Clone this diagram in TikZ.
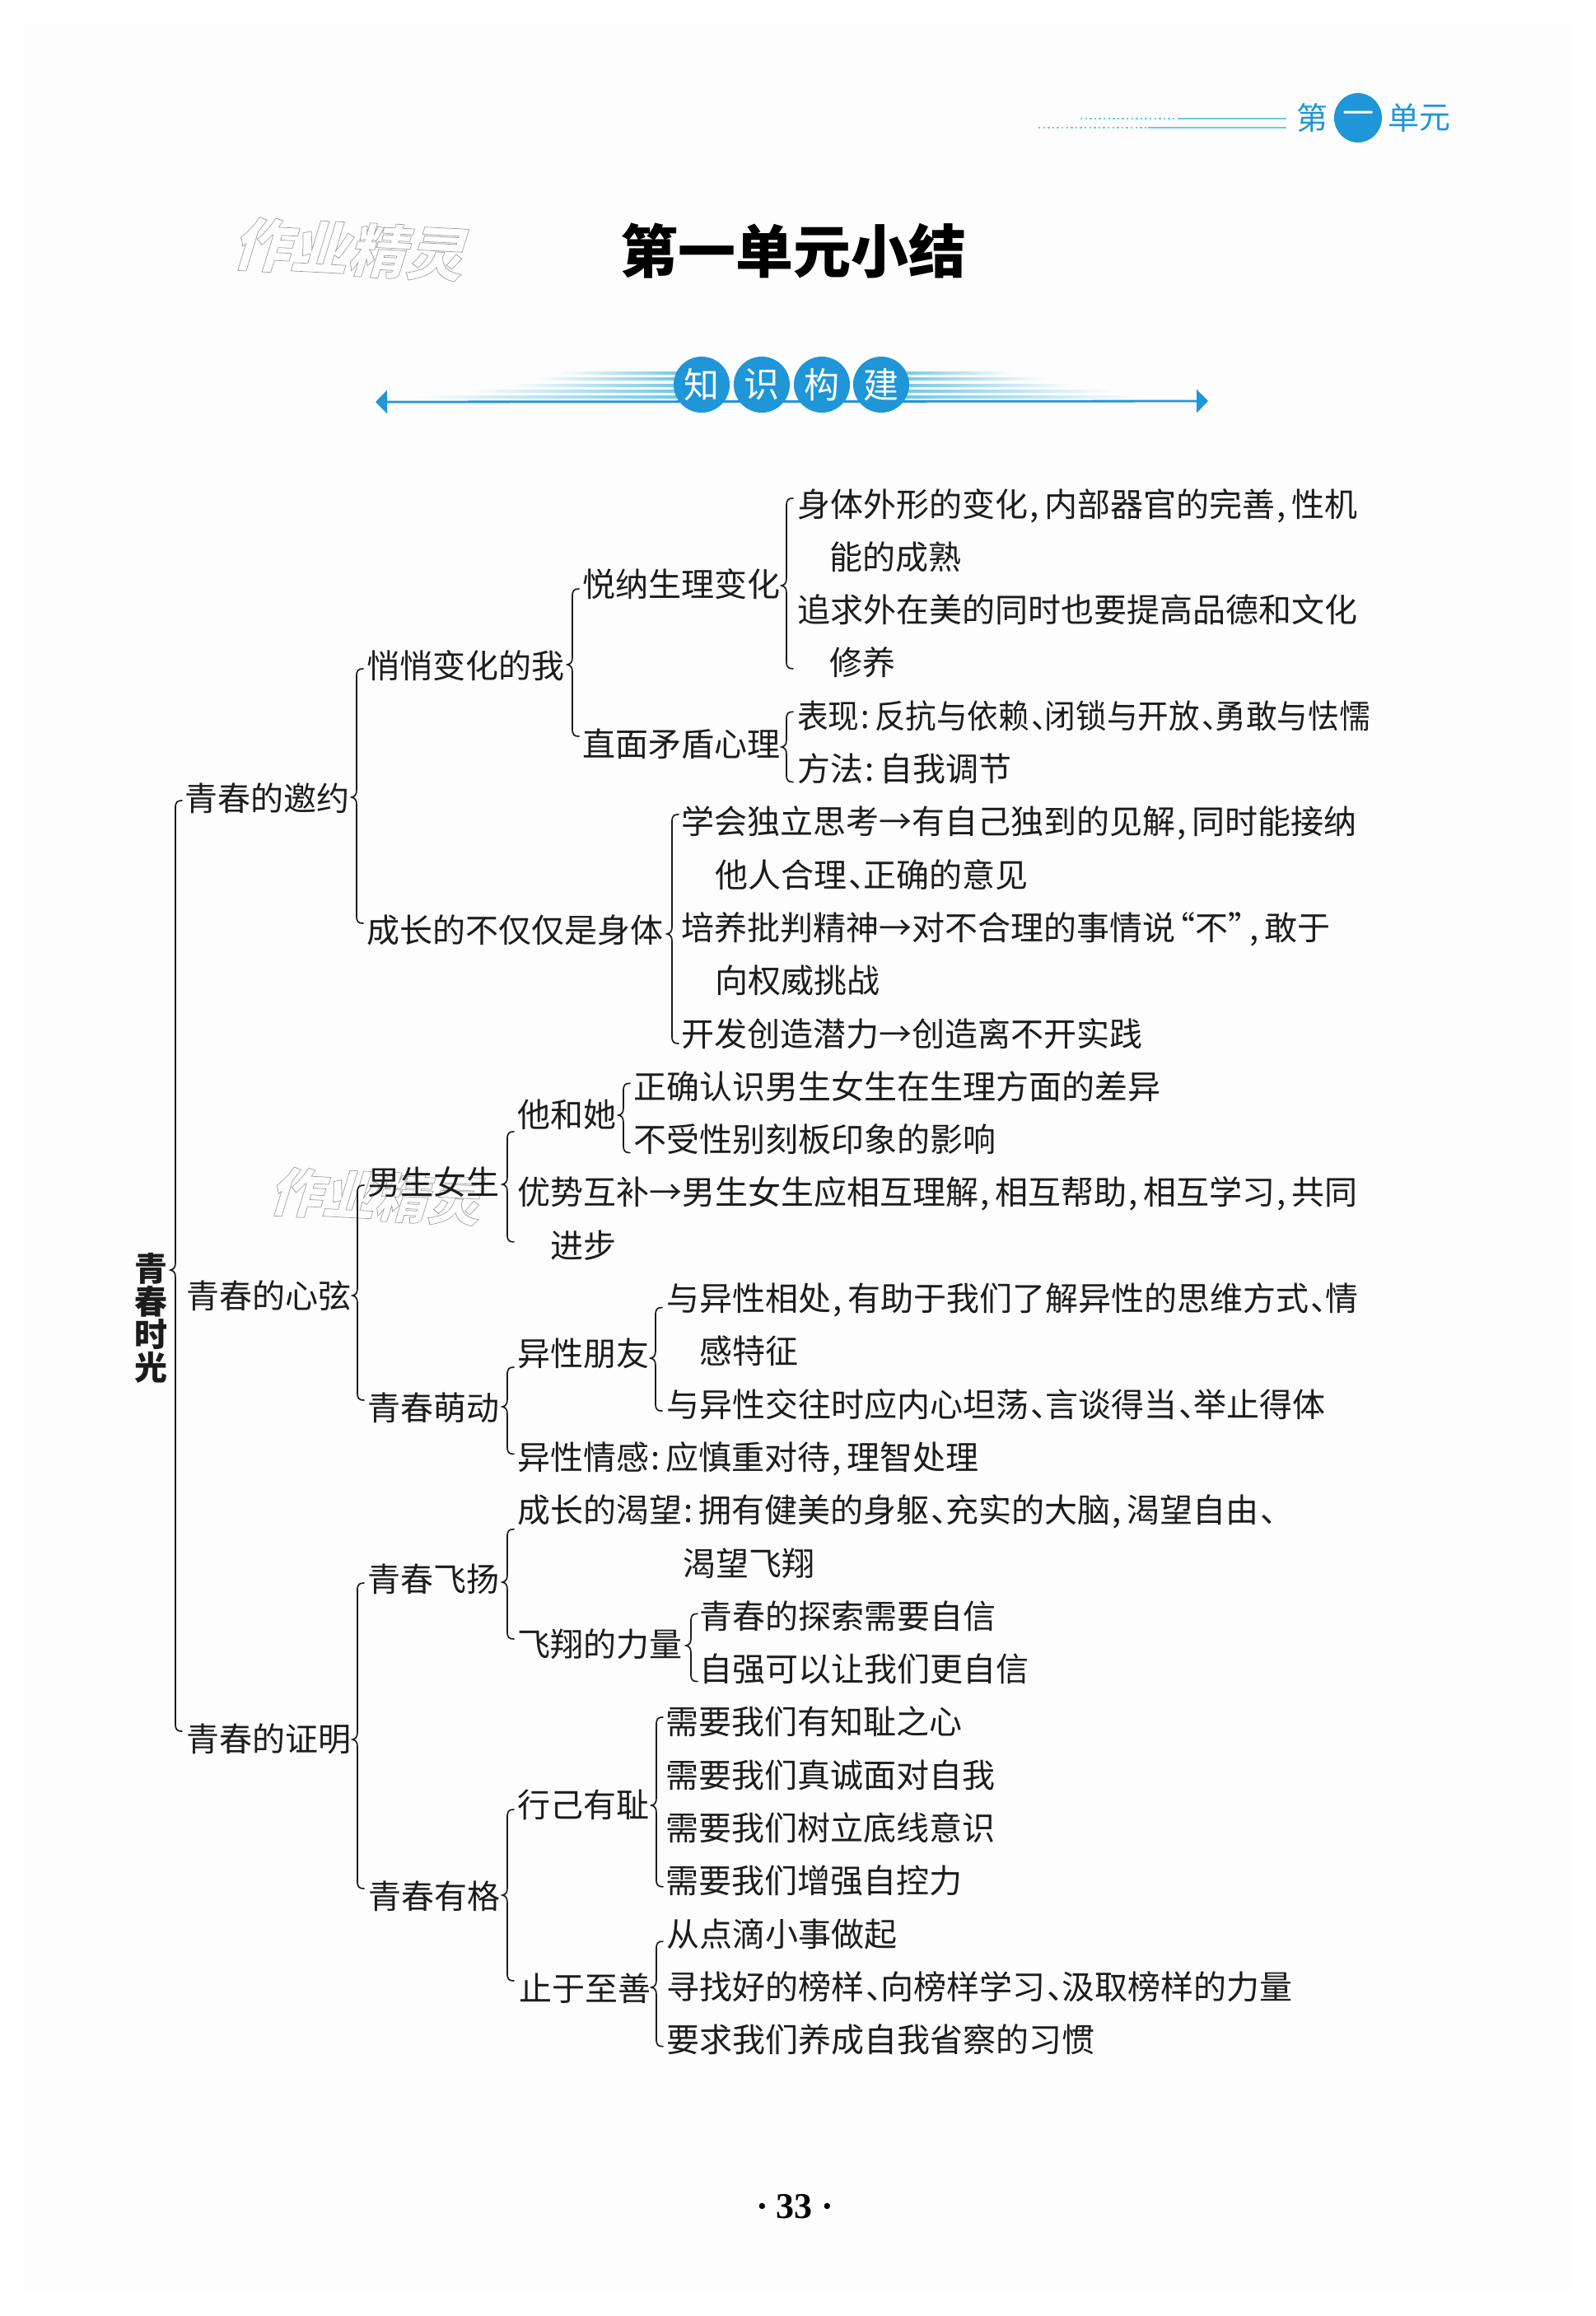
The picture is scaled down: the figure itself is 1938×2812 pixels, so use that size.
\documentclass[tikz,border=0pt]{standalone}
\usepackage{graphicx}
\usepackage{fontspec}
\setmainfont{Noto Sans CJK SC}
\newfontfamily\numfont{Liberation Serif}
\usetikzlibrary{arrows.meta,calc,shapes.geometric}
\definecolor{ink}{HTML}{1C1C1C}
\definecolor{cy}{HTML}{1E96D8}
\definecolor{cyl}{HTML}{6CC6EA}
\definecolor{pagebg}{HTML}{FDFDFD}
\def\U{.5pt}
\newcommand\hw[1]{\makebox[.5em][l]{\hspace{.06em}#1}}
\newcommand\lqm[1]{\makebox[.6em][r]{#1}}
\newcommand\rqm[1]{\makebox[.6em][l]{#1}}
\newcommand\outl[1]{\special{pdf:code q 1 Tr 0.35 w}#1\special{pdf:code Q}}
\tikzset{
  x=.5pt,y=-.5pt,
  lab/.style={anchor=west,inner sep=0pt,outer sep=0pt,text=ink,font=\fontsize{20}{24}\selectfont,text height=18pt,text depth=2pt},
  bracket/.style={draw=ink,line width=.85pt,line cap=round},
  ball/.style={circle,fill=cy,text=white,inner sep=0pt,minimum size=34pt,font=\fontsize{21.5}{24}\selectfont},
  hdr/.style={inner sep=0pt,text=cy,font=\fontsize{19}{22}\selectfont},
  wmark/.style={inner sep=0pt,text=gray!75,transform shape}
}
% parent, top child, bottom child, x, tip offset, top offset, bottom offset (px, downward)
\newcommand\cbr[7]{\draw[bracket] let \p1=(#1),\p2=(#2),\p3=(#3) in
 ({(#4+8)*\U},{\y2-(#6)*\U}) .. controls ({(#4+2)*\U},{\y2-(#6)*\U}) and ({#4*\U},{\y2-(#6+2)*\U}) .. ({#4*\U},{\y2-(#6+9)*\U})
 -- ({#4*\U},{\y1-(#5-9)*\U}) .. controls ({#4*\U},{\y1-(#5-3)*\U}) and ({(#4-2)*\U},{\y1-(#5-1)*\U}) .. ({(#4-6)*\U},{\y1-(#5)*\U})
 .. controls ({(#4-2)*\U},{\y1-(#5+1)*\U}) and ({#4*\U},{\y1-(#5+3)*\U}) .. ({#4*\U},{\y1-(#5+9)*\U})
 -- ({#4*\U},{\y3-(#7-9)*\U}) .. controls ({#4*\U},{\y3-(#7-2)*\U}) and ({(#4+2)*\U},{\y3-(#7)*\U}) .. ({(#4+8)*\U},{\y3-(#7)*\U});}
\begin{document}
\begin{tikzpicture}
\useasboundingbox (0,0) rectangle (1938,2812);
\fill[white] (0,0) rectangle (1938,2812);
\fill[pagebg] (29,29) rectangle (1909,2783);

% header
\node[hdr] (hd1) at (1593,143) {第};
\node[ellipse,fill=cy,text=white,inner sep=0pt,minimum width=29pt,minimum height=30pt,font=\fontsize{19}{22}\selectfont] (hd2) at (1649,143) {一};
\node[hdr] (hd3) at (1704,143) {单};
\node[hdr] (hd4) at (1742,143) {元};
\draw[cyl,line width=1pt,dash pattern=on 1.2pt off 1.6pt] (1312,144) -- (1430,144);
\draw[cyl,line width=1pt] (1430,144) -- (1562,144);
\draw[cyl,line width=1pt,dash pattern=on 1.2pt off 1.6pt] (1261,155) -- (1394,155);
\draw[cyl,line width=1pt] (1394,155) -- (1562,155);

% title
\node[inner sep=0pt,text=black,font=\fontsize{35}{40}\selectfont\bfseries] (title) at (963,305) {第一单元小结};
\begin{scope}[shift={(429,303)},rotate=-3,xslant=.25]
\node[wmark,font=\fontsize{35}{40}\selectfont\bfseries] (wm1) at (0,0) {\outl{作业精灵}};
\end{scope}

% knowledge band
\foreach \yy/\lx/\rx in {453/680/1231,460/649/1271,468/618/1302,475/567/1353,482/506/1384}{
  \shade[left color=pagebg,right color=cyl] (\lx,\yy-1.5) rectangle (830,\yy+1.5);
  \shade[left color=cyl,right color=pagebg] (1090,\yy-1.5) rectangle (\rx,\yy+1.5);
}
\draw[cy,line width=1.4pt,{Triangle[length=7pt,width=14pt]}-{Triangle[length=7pt,width=14pt]}] (456,488) -- (1467,487);
\node[ball] (k1) at (852,467) {知};
\node[ball] (k2) at (925,467) {识};
\node[ball] (k3) at (998,467) {构};
\node[ball] (k4) at (1070,467) {建};

% second watermark (under the tree)
\begin{scope}[shift={(461,1453)},rotate=-3,xslant=.25]
\node[wmark,font=\fontsize{32}{36}\selectfont\bfseries] (wm2) at (0,0) {\outl{作业精灵}};
\end{scope}

% tree nodes
\node[inner sep=0pt,text=ink,align=center,font=\fontsize{20}{20}\selectfont\bfseries] (root) at (183,1600) {青\\春\\时\\光};
\node[lab] (yao) at (224,968) {青春的邀约};
\node[lab] (xian) at (226,1572) {青春的心弦};
\node[lab] (zm) at (226,2110) {青春的证明};
\node[lab] (qiao) at (445,807) {悄悄变化的我};
\node[lab] (cheng) at (445,1128) {成长的不仅仅是身体};
\node[lab] (nan) at (446,1434) {男生女生};
\node[lab] (meng) at (446,1708) {青春萌动};
\node[lab] (fy) at (446,1916) {青春飞扬};
\node[lab] (yg) at (447,2301) {青春有格};
\node[lab] (yue) at (707,708) {悦纳生理变化};
\node[lab] (zhi) at (707,902) {直面矛盾心理};
\node[lab] (hehe) at (628,1352) {他和她};
\node[lab] (yiyou) at (628,1642) {异性朋友};
\node[lab] (lili) at (628,1995) {飞翔的力量};
\node[lab] (xj) at (628,2190) {行己有耻};
\node[lab] (zs) at (630,2413) {止于至善};

\node[lab] (r0) at (968,611) {身体外形的变化\hw{,}内部器官的完善\hw{,}性机};
\node[lab] (r1) at (1007,675.3) {能的成熟};
\node[lab] (r2) at (968,739.6) {追求外在美的同时也要提高品德和文化};
\node[lab] (r3) at (1007,803.9) {修养};
\node[lab] (r4) at (968,868.2) {\scalebox{.94}[1]{表现\hw{:}反抗与依赖\hw{、}闭锁与开放\hw{、}勇敢与怯懦}};
\node[lab] (r5) at (968,932.5) {方法\hw{:}自我调节};
\node[lab] (r6) at (827,996.8) {学会独立思考→有自己独到的见解\hw{,}同时能接纳};
\node[lab] (r7) at (868,1061.1) {他人合理\hw{、}正确的意见};
\node[lab] (r8) at (827,1125.4) {培养批判精神→对不合理的事情说\lqm{“}不\rqm{”}\hw{,}敢于};
\node[lab] (r9) at (868,1189.7) {向权威挑战};
\node[lab] (r10) at (827,1254) {开发创造潜力→创造离不开实践};
\node[lab] (r11) at (769,1318.3) {正确认识男生女生在生理方面的差异};
\node[lab] (r12) at (769,1382.6) {不受性别刻板印象的影响};
\node[lab] (r13) at (628,1446.9) {优势互补→男生女生应相互理解\hw{,}相互帮助\hw{,}相互学习\hw{,}共同};
\node[lab] (r14) at (668,1511.2) {进步};
\node[lab] (r15) at (809,1575.5) {与异性相处\hw{,}有助于我们了解异性的思维方式\hw{、}情};
\node[lab] (r16) at (849,1639.8) {感特征};
\node[lab] (r17) at (809,1704.1) {与异性交往时应内心坦荡\hw{、}言谈得当\hw{、}举止得体};
\node[lab] (r18) at (628,1768.4) {异性情感\hw{:}应慎重对待\hw{,}理智处理};
\node[lab] (r19) at (628,1832.7) {成长的渴望\hw{:}拥有健美的身躯\hw{、}充实的大脑\hw{,}渴望自由\hw{、}};
\node[lab] (r20) at (829,1897) {渴望飞翔};
\node[lab] (r21) at (849,1961.3) {青春的探索需要自信};
\node[lab] (r22) at (849,2025.6) {自强可以让我们更自信};
\node[lab] (r23) at (808,2089.9) {需要我们有知耻之心};
\node[lab] (r24) at (808,2154.2) {需要我们真诚面对自我};
\node[lab] (r25) at (808,2218.5) {需要我们树立底线意识};
\node[lab] (r26) at (808,2282.8) {需要我们增强自控力};
\node[lab] (r27) at (809,2347.1) {从点滴小事做起};
\node[lab] (r28) at (809,2411.4) {寻找好的榜样\hw{、}向榜样学习\hw{、}汲取榜样的力量};
\node[lab] (r29) at (809,2475.7) {要求我们养成自我省察的习惯};

% braces
\cbr{root}{yao}{zm}{213}{-58}{4}{-8}
\cbr{yao}{qiao}{cheng}{433}{0}{5}{-7}
\cbr{qiao}{yue}{zhi}{695}{0}{7}{-8}
\cbr{yue}{r0}{r3}{955}{3}{-6}{8}
\cbr{zhi}{r4}{r5}{955}{5}{-4}{17}
\cbr{cheng}{r6}{r10}{816}{6}{-8}{13}
\cbr{xian}{nan}{meng}{434}{1}{5}{-8}
\cbr{nan}{hehe}{r13}{616}{4}{22}{61}
\cbr{hehe}{r11}{r12}{757}{2}{-3}{17}
\cbr{meng}{yiyou}{r18}{616}{0}{18}{-3}
\cbr{yiyou}{r15}{r17}{796}{7}{12}{9}
\cbr{zm}{fy}{yg}{434}{2}{6}{-8}
\cbr{fy}{r19}{lili}{616}{5}{24}{-5}
\cbr{lili}{r21}{r22}{839}{3}{-2}{16}
\cbr{yg}{xj}{zs}{616}{0}{7}{-8}
\cbr{xj}{r23}{r26}{797}{2}{-5}{8}
\cbr{zs}{r27}{r29}{797}{0}{10}{9}

% page number
\node[inner sep=0pt,text=black,font=\numfont\fontsize{22}{24}\selectfont\bfseries] (pg) at (965,2679) {·\,\kern1.5pt 33\kern1.5pt\,·};
\end{tikzpicture}
\end{document}
